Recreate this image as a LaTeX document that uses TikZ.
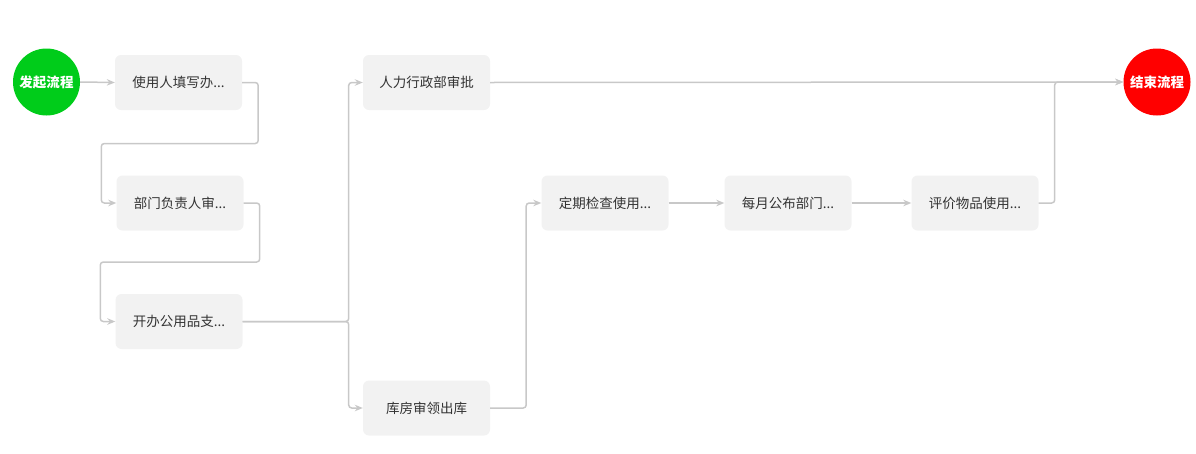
\documentclass[tikz,border=0pt]{standalone}
\usepackage{fontspec}
\setmainfont{Noto Sans CJK SC}
\usetikzlibrary{arrows.meta,calc}
\definecolor{startgreen}{HTML}{00CC1A}
\definecolor{endred}{HTML}{FF0000}
\definecolor{boxfill}{HTML}{F2F2F2}
\definecolor{boxtext}{HTML}{333333}
\definecolor{linegray}{HTML}{C8C8C8}
\begin{document}
\begin{tikzpicture}[x=1pt,y=-1pt,
  stepbox/.style={rectangle,rounded corners=6pt,fill=boxfill,minimum width=127pt,minimum height=55pt,inner sep=0pt,text=boxtext,font=\fontsize{13.5pt}{16pt}\selectfont},
  terminal/.style={circle,minimum size=67pt,inner sep=0pt,text=white,font=\fontsize{13.5pt}{16pt}\selectfont\bfseries},
  conn/.style={draw=linegray,line width=1.5pt,rounded corners=3pt,-{Stealth[length=8pt,width=6.5pt,fill=linegray]}},
  plainconn/.style={draw=linegray,line width=1.5pt,rounded corners=3pt}]
\useasboundingbox (0,0) rectangle (1196,453);
\node[terminal,fill=startgreen] (start) at (46.5,82) {发起流程};
\node[stepbox] (b1) at (178.5,82.5) {使用人填写办...};
\node[stepbox] (b2) at (180,203) {部门负责人审...};
\node[stepbox] (b3) at (179,321.5) {开办公用品支...};
\node[stepbox] (b4) at (426.5,82.5) {人力行政部审批};
\node[stepbox] (b5) at (426.5,408) {库房审领出库};
\node[stepbox] (b6) at (605,203) {定期检查使用...};
\node[stepbox] (b7) at (788,203) {每月公布部门...};
\node[stepbox] (b8) at (975,203) {评价物品使用...};
\node[terminal,fill=endred] (end) at (1157,82) {结束流程};

\draw[conn] (start.east) -- (b1.west);
\draw[conn] (b1.east) -- ++(16,0) -- ++(0,61) -| ([xshift=-15pt]b2.west) -- (b2.west);
\draw[conn] (b2.east) -- ++(16,0) -- ++(0,59) -| ([xshift=-15pt]b3.west) -- (b3.west);
\draw[conn] (b3.east) -- ++(106,0) |- (b4.west);
\draw[conn] (b3.east) -- ++(106,0) |- (b5.west);
\draw[conn] (b4.east) -- (end.west);
\draw[conn] (b5.east) -- ++(36,0) |- (b6.west);
\draw[conn] (b6.east) -- (b7.west);
\draw[conn] (b7.east) -- (b8.west);
\draw[conn] (b8.east) -- ++(16,0) |- (end.west);
\end{tikzpicture}
\end{document}
